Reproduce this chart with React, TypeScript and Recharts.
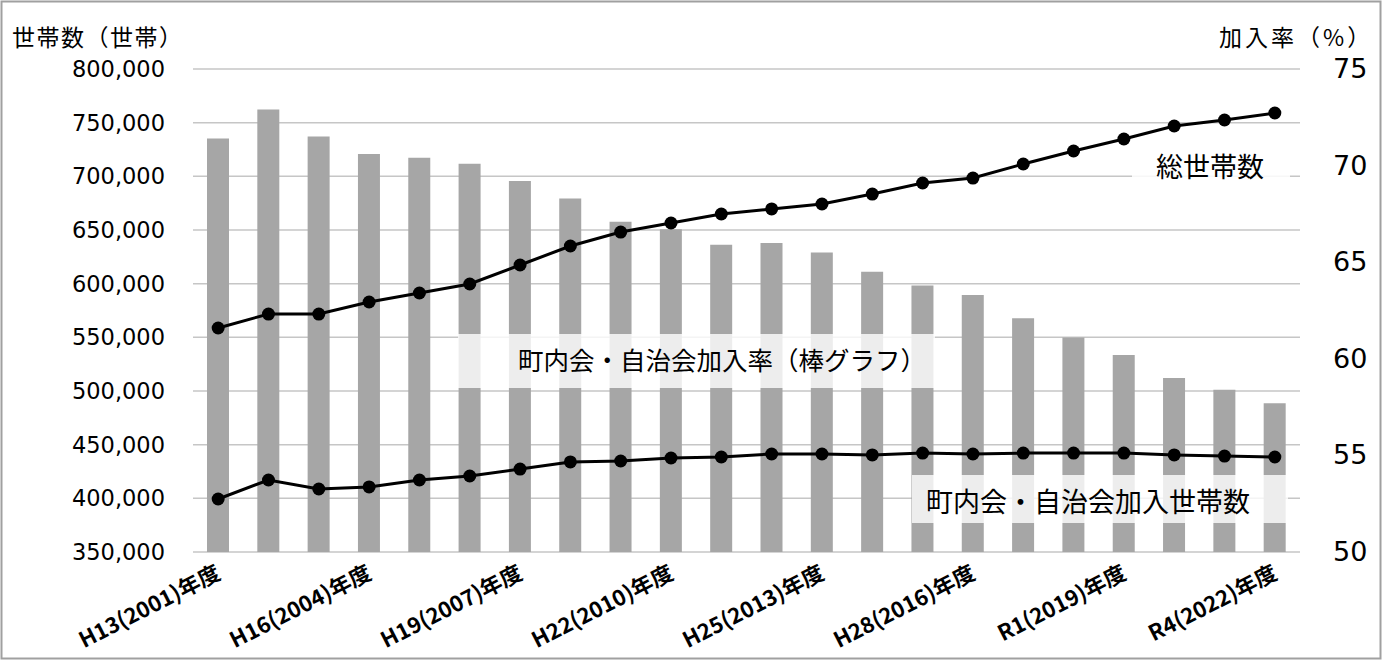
import React from 'react';
import { ComposedChart, Bar, Line, XAxis, YAxis, CartesianGrid } from 'recharts';

const categories = [
  'H13(2001)年度', 'H14(2002)年度', 'H15(2003)年度', 'H16(2004)年度', 'H17(2005)年度',
  'H18(2006)年度', 'H19(2007)年度', 'H20(2008)年度', 'H21(2009)年度', 'H22(2010)年度',
  'H23(2011)年度', 'H24(2012)年度', 'H25(2013)年度', 'H26(2014)年度', 'H27(2015)年度',
  'H28(2016)年度', 'H29(2017)年度', 'H30(2018)年度', 'R1(2019)年度', 'R2(2020)年度',
  'R3(2021)年度', 'R4(2022)年度',
];
const joinRate = [71.4, 72.9, 71.5, 70.6, 70.4, 70.1, 69.2, 68.3, 67.1, 66.7, 65.9, 66.0, 65.5, 64.5, 63.8, 63.3, 62.1, 61.1, 60.2, 59.0, 58.4, 57.7];
const totalHouseholds = [558700, 571700, 571700, 582900, 591300, 599700, 617400, 635100, 648100, 656500, 664900, 669600, 674200, 683500, 693800, 698400, 711500, 723600, 734800, 746900, 752500, 759000];
const joinedHouseholds = [399400, 417100, 408700, 410600, 417100, 420800, 427300, 433900, 434800, 437600, 438500, 441300, 441300, 440400, 442200, 441300, 442200, 442200, 442200, 440400, 439400, 438500];
const leftTicks = [350000, 400000, 450000, 500000, 550000, 600000, 650000, 700000, 750000, 800000];
const rightTicks = [50, 55, 60, 65, 70, 75];

const leftTitle = '世帯数（世帯）';
const rightTitle = '加入率（%）';
const totalLabel = '総世帯数';
const rateLabel = '町内会・自治会加入率（棒グラフ）';
const joinedLabel = '町内会・自治会加入世帯数';

const data = categories.map((c, i) => ({
  name: c,
  rate: joinRate[i],
  total: totalHouseholds[i],
  joined: joinedHouseholds[i],
}));

const CJK = '"Noto Sans CJK JP", "Noto Sans", sans-serif';
const NUM = '"DejaVu Sans", sans-serif';

const LeftTick = (props: any) => {
  const { y, payload } = props;
  return (
    <text x={165} y={y} dy={8} textAnchor="end" fontFamily={NUM} fontSize={22.5} fill="#000">
      {Number(payload.value).toLocaleString('en-US')}
    </text>
  );
};

const RightTick = (props: any) => {
  const { y, payload } = props;
  return (
    <text x={1333} y={y} dy={9} textAnchor="start" fontFamily={NUM} fontSize={27} fill="#000">
      {payload.value}
    </text>
  );
};

const XTick = (props: any) => {
  const { x, y, payload } = props;
  return (
    <g transform={`translate(${x + 4},${y + 18})`}>
      <text x={0} y={0} textAnchor="end" transform="rotate(-27)" fontFamily={CJK} fontSize={22} fontWeight={700} fill="#000">
        {payload.value}
      </text>
    </g>
  );
};

export default function App() {
  return (
    <div style={{ position: 'absolute', left: 0, top: 0, width: 1382, height: 660, background: '#fff' }}>
      <ComposedChart width={1382} height={660} data={data} margin={{ top: 69, right: 0, bottom: 0, left: 0 }}>
        <CartesianGrid yAxisId="left" vertical={false} stroke="#c6c6c6" strokeWidth={1.5} />
        <XAxis dataKey="name" interval={2} height={108} axisLine={false} tickLine={false} tick={<XTick />} />
        <YAxis yAxisId="left" orientation="left" width={193} domain={[350000, 800000]} ticks={leftTicks} axisLine={false} tickLine={false} tick={<LeftTick />} />
        <YAxis yAxisId="right" orientation="right" width={82} domain={[50, 75]} ticks={rightTicks} axisLine={false} tickLine={false} tick={<RightTick />} />
        <Bar yAxisId="right" dataKey="rate" fill="#a6a6a6" barSize={22} isAnimationActive={false} />
        <Line yAxisId="left" dataKey="total" stroke="#000" strokeWidth={3} dot={{ r: 6.5, fill: '#000', stroke: '#000', strokeWidth: 0 }} isAnimationActive={false} />
        <Line yAxisId="left" dataKey="joined" stroke="#000" strokeWidth={3} dot={{ r: 6.5, fill: '#000', stroke: '#000', strokeWidth: 0 }} isAnimationActive={false} />
      </ComposedChart>
      <svg width={1382} height={660} style={{ position: 'absolute', left: 0, top: 0, pointerEvents: 'none' }}>
        <rect x={1.5} y={1.5} width={1379} height={657} fill="none" stroke="#a0a0a0" strokeWidth={2} />
        <text x={12} y={46} fontFamily={CJK} fontSize={23} letterSpacing={1.5} fill="#000">{leftTitle}</text>
        <text x={1219} y={46} textAnchor="start" fontFamily={CJK} fontSize={23} letterSpacing={3} fill="#000">{rightTitle}</text>
        <rect x={1132} y={148} width={158} height={46} fill="#fff" fillOpacity={0.85} />
        <text x={1210} y={177} textAnchor="middle" fontFamily={CJK} fontSize={27} fill="#000">{totalLabel}</text>
        <rect x={458} y={334} width={477} height={54} fill="#fff" fillOpacity={0.8} />
        <text x={722} y={370} textAnchor="middle" fontFamily={CJK} fontSize={25.5} fill="#000">{rateLabel}</text>
        <rect x={912} y={475} width={376} height={48} fill="#fff" fillOpacity={0.8} />
        <text x={1088} y={512} textAnchor="middle" fontFamily={CJK} fontSize={27} fill="#000">{joinedLabel}</text>
      </svg>
    </div>
  );
}
